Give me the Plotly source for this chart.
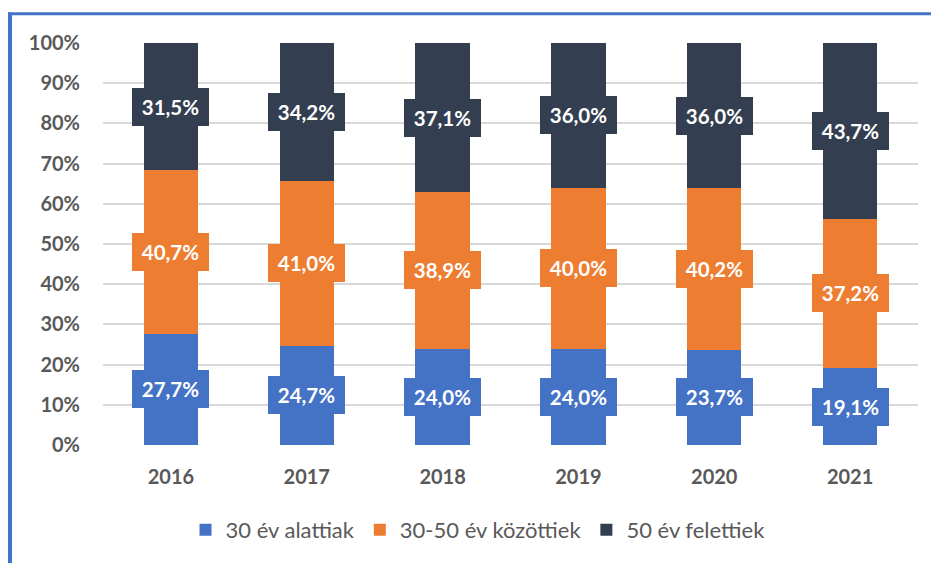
import plotly.graph_objects as go

years = ["2016", "2017", "2018", "2019", "2020", "2021"]
under30 = [27.7, 24.7, 24.0, 24.0, 23.7, 19.1]
mid3050 = [40.7, 41.0, 38.9, 40.0, 40.2, 37.2]
over50 = [31.5, 34.2, 37.1, 36.0, 36.0, 43.7]
series_names = ["30 év alattiak", "30-50 év közöttiek", "50 év felettiek"]
colors = ["#4472C4", "#ED7D31", "#333F50"]
y_ticks = [0, 10, 20, 30, 40, 50, 60, 70, 80, 90, 100]
y_tick_labels = [f"<b>{v}%</b>" for v in y_ticks]

FONT = "Lato"
GREY = "#595959"

# page body has an 8px margin; figure sized/positioned to compensate
W, H = 931, 555
L, R, T, B = 95, 21, 35, 118
PW, PH = W - L - R, H - T - B

def px_x(x):  # figure pixel -> paper x
    return (x - L) / PW

def px_y(y):  # figure pixel -> paper y
    return 1 - (y - T) / PH

fig = go.Figure()
all_series = [under30, mid3050, over50]
for name, vals, col in zip(series_names, all_series, colors):
    fig.add_trace(go.Bar(
        x=years, y=vals, name=name,
        marker=dict(color=col, line=dict(width=0)),
        hoverinfo="skip",
    ))

annotations = []
for i, yr in enumerate(years):
    base = 0.0
    for vals, col in zip(all_series, colors):
        v = vals[i]
        annotations.append(dict(
            x=i, y=base + v / 2, xref="x", yref="y",
            text="<b>" + f"{v:.1f}".replace(".", ",") + "%</b>",
            showarrow=False,
            font=dict(family=FONT, size=20.5, color="white"),
            bgcolor=col, bordercolor=col, borderwidth=1, borderpad=0,
            width=75, height=36, align="center", valign="middle",
        ))
        base += v

fig.update_layout(
    width=W, height=H,
    margin=dict(l=L, r=R, t=T, b=B, autoexpand=False),
    paper_bgcolor="white", plot_bgcolor="white",
    barmode="stack", bargap=0.6,
    font=dict(family=FONT, color=GREY),
    annotations=annotations,
    showlegend=True,
    legend=dict(
        orientation="h", x=px_x(470), xanchor="center", y=px_y(522), yanchor="middle",
        font=dict(family=FONT, size=22, color=GREY),
        itemwidth=30, traceorder="normal",
    ),
    shapes=[
        dict(type="line", xref="paper", yref="paper",
             x0=px_x(1.8), x1=px_x(1.8), y0=px_y(4.6), y1=px_y(570),
             line=dict(color="#4472C4", width=4.5)),
        dict(type="line", xref="paper", yref="paper",
             x0=px_x(-1), x1=px_x(940), y0=px_y(5.8), y1=px_y(5.8),
             line=dict(color="#4472C4", width=3)),
    ],
)

fig.update_yaxes(
    range=[0, 100], tickvals=y_ticks, ticktext=y_tick_labels,
    tickfont=dict(family=FONT, size=20, color=GREY),
    showgrid=True, gridcolor="#D9D9D9", gridwidth=2,
    zeroline=False, showline=False, ticklabelstandoff=22,
    automargin=False,
)
fig.update_xaxes(
    type="category", range=[-0.5, len(years) - 0.5],
    tickfont=dict(family=FONT, size=20, color=GREY),
    tickprefix="<b>", ticksuffix="</b>",
    showline=False, showgrid=False, zeroline=False,
    ticklabelstandoff=18, automargin=False,
)

fig.write_html("out.html")
